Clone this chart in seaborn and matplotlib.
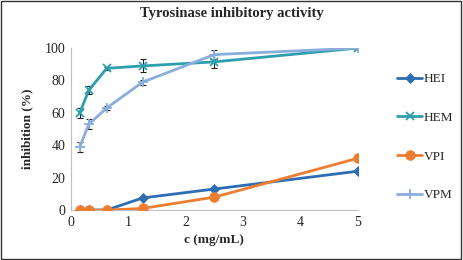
import pandas as pd
import seaborn as sns
import matplotlib.pyplot as plt
from matplotlib.patches import Rectangle

sns.set_style('white')
plt.rcParams['font.family'] = ['Liberation Serif', 'DejaVu Serif']

# 数据
conc = [0.156, 0.3125, 0.625, 1.25, 2.5, 5]
hei = [0, 0, 0, 7.5, 13, 24]
hem = [60, 74, 87.5, 89, 91.5, 100]
vpi = [0, 0, 0, 1, 8, 32]
vpm = [39, 53, 63, 79, 96, 100]
hem_err = [3, 2.5, 1, 4, 4, 0.5]
vpm_err = [3, 3, 1.5, 1.5, 3, 0.5]
vpi_err = [0, 0, 0, 0, 0, 2]

series = ['HEI', 'HEM', 'VPI', 'VPM']
colors = ['#2E6DB4', '#2E9FAE', '#ED7D31', '#8AAEDC']
markers = ['D', 'x', 'o', '+']
sizes = [5, 6, 7, 7]

df = pd.DataFrame({'c': conc * 4,
                   'val': hei + hem + vpi + vpm,
                   'name': sum([[s] * len(conc) for s in series], [])})

fig = plt.figure(figsize=(4.63, 2.6), dpi=100)
ax = fig.add_axes([0.153, 0.192, 0.62, 0.623])

errs = {'HEM': hem_err, 'VPM': vpm_err, 'VPI': vpi_err}
for s, col, m, ms in zip(series, colors, markers, sizes):
    d = df[df['name'] == s]
    if s in errs:
        ax.errorbar(d['c'], d['val'], yerr=errs[s], fmt='none', ecolor='#222222',
                    elinewidth=0.8, capsize=2.5, capthick=0.8, zorder=1)
    sns.lineplot(data=d, x='c', y='val', ax=ax, color=col, marker=m, markersize=ms,
                 markeredgecolor=col, markeredgewidth=1.3 if m in 'x+' else 0.5,
                 linewidth=2, label=s, zorder=3)

ax.set_xlim(0, 5)
ax.set_ylim(0, 100)
ax.set_xticks(range(6))
ax.set_yticks(range(0, 101, 20))
ax.tick_params(labelsize=10, length=0, pad=4)
for sp in ['top', 'right']:
    ax.spines[sp].set_visible(False)
ax.spines['left'].set_color('#BFBFBF')
ax.spines['bottom'].set_color('#BFBFBF')
ax.set_xlabel('c (mg/mL)', fontsize=9.5, fontweight='bold', labelpad=4)
ax.set_ylabel('inhibition (%)', fontsize=9.5, fontweight='bold', labelpad=8)
fig.suptitle('Tyrosinase inhibitory activity', x=0.5, y=0.975, fontsize=10.5, fontweight='bold')

ax.legend(loc='center left', bbox_to_anchor=(1.095, 0.45), frameon=False, fontsize=9.5,
          labelspacing=2.0, handlelength=1.9, handletextpad=0.1)

fig.patches.append(Rectangle((0.003, 0.005), 0.993, 0.99, transform=fig.transFigure,
                             fill=False, edgecolor='#333333', linewidth=1))

fig.savefig('out.png', dpi=100)
